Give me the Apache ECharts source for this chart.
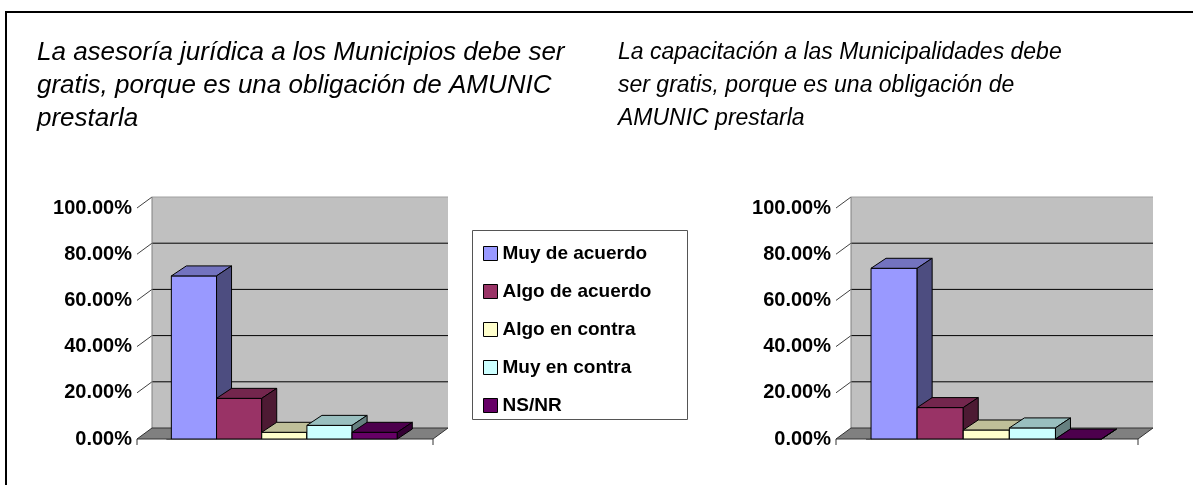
<!DOCTYPE html>
<html>
<head>
<meta charset="utf-8">
<script src="https://cdn.jsdelivr.net/npm/echarts@6/dist/echarts.min.js"></script>
<style>
  html, body { margin: 0; padding: 0; background: #fff; }
  #main { width: 1193px; height: 485px; }
</style>
</head>
<body>
<div id="main"></div>
<script>
// categorias y valores
const categories = ['Muy de acuerdo', 'Algo de acuerdo', 'Algo en contra', 'Muy en contra', 'NS/NR'];
const asesoria = [0.706, 0.176, 0.029, 0.059, 0.029];
const capacitacion = [0.739, 0.136, 0.039, 0.048, 0];
const titleLeft = 'La asesoría jurídica a los Municipios debe ser\ngratis, porque es una obligación de AMUNIC\nprestarla';
const titleRight = 'La capacitación a las Municipalidades debe\nser gratis, porque es una obligación de\nAMUNIC prestarla';

// colores estilo Excel: frente, arriba, lado
const colors = [
  ['#9999FF', '#7373BF', '#4D4D80'],
  ['#993366', '#73264D', '#4D1A33'],
  ['#FFFFCC', '#BFBF99', '#808066'],
  ['#CCFFFF', '#99BFBF', '#668080'],
  ['#660066', '#4D004D', '#330033']
];
const FONT = '"Liberation Sans", Arial, sans-serif';
const DX = 15, DY = -11;   // profundidad de las paredes
const BX = 15, BY = -10;   // profundidad de las barras
const X_MIN = -0.76, X_MAX = 5.79;

const chart = echarts.init(document.getElementById('main'));

/**
 * paredes, piso y lineas de division
 */
function renderWalls(params, api) {
  const line = (x1, y1, x2, y2, color) => ({
    type: 'line',
    shape: { x1: x1, y1: y1, x2: x2, y2: y2 },
    style: { stroke: color, lineWidth: 1 }
  });
  const fl = api.coord([X_MIN, 0]);
  const fr = api.coord([X_MAX, 0]);
  const tl = api.coord([X_MIN, 1]);
  const children = [];
  // pared de fondo
  children.push({
    type: 'rect',
    shape: { x: tl[0] + DX, y: tl[1] + DY, width: fr[0] - fl[0], height: fl[1] - tl[1] },
    style: { fill: '#C0C0C0' }
  });
  // pared lateral
  children.push({
    type: 'polygon',
    shape: { points: [[tl[0], tl[1]], [tl[0] + DX, tl[1] + DY], [fl[0] + DX, fl[1] + DY], [fl[0], fl[1]]] },
    style: { fill: '#FFFFFF' }
  });
  for (let v = 0.2; v <= 1.0001; v += 0.2) {
    const a = api.coord([X_MIN, v]);
    const b = api.coord([X_MAX, v]);
    children.push(line(a[0] + DX, a[1] + DY, b[0] + DX, b[1] + DY, v > 0.99 ? '#A0A0A0' : '#000'));
    children.push(line(a[0], a[1], a[0] + DX, a[1] + DY, '#404040'));
  }
  children.push(line(tl[0] + DX, tl[1] + DY, fl[0] + DX, fl[1] + DY, '#808080'));
  // piso
  children.push({
    type: 'polygon',
    shape: { points: [[fl[0], fl[1]], [fr[0], fr[1]], [fr[0] + DX, fr[1] + DY], [fl[0] + DX, fl[1] + DY]] },
    style: { fill: '#808080', stroke: '#333', lineWidth: 1 }
  });
  children.push(line(fl[0], fl[1], fl[0], fl[1] + 6, '#333'));
  children.push(line(fr[0], fr[1], fr[0], fr[1] + 6, '#333'));
  return { type: 'group', children: children };
}

/**
 * barra 3D
 */
function renderBar(params, api) {
  const i = api.value(0);
  const c = colors[api.value(2)];
  const bl = api.coord([i, 0]);
  const tr = api.coord([i + 1, api.value(1)]);
  const x0 = bl[0], x1 = tr[0], yb = bl[1], yt = tr[1];
  const edge = { stroke: '#000', lineWidth: 1 };
  return {
    type: 'group',
    children: [
      { type: 'rect', shape: { x: x0, y: yt, width: x1 - x0, height: yb - yt }, style: Object.assign({ fill: c[0] }, edge) },
      { type: 'polygon', shape: { points: [[x0, yt], [x1, yt], [x1 + BX, yt + BY], [x0 + BX, yt + BY]] }, style: Object.assign({ fill: c[1] }, edge) },
      { type: 'polygon', shape: { points: [[x1, yt], [x1 + BX, yt + BY], [x1 + BX, yb + BY], [x1, yb]] }, style: Object.assign({ fill: c[2] }, edge) }
    ]
  };
}

const grids = [
  { left: 137, top: 208, width: 296, height: 231 },
  { left: 836, top: 208, width: 302, height: 231 }
];
const xAxes = [0, 1].map(g => ({ type: 'value', gridIndex: g, min: X_MIN, max: X_MAX, show: false }));
const yAxes = [0, 1].map(g => ({
  type: 'value', gridIndex: g, min: 0, max: 1, interval: 0.2,
  axisLine: { show: true, lineStyle: { color: '#808080' } },
  axisTick: { show: true, length: 5, lineStyle: { color: '#808080' } },
  splitLine: { show: false },
  axisLabel: {
    margin: 5, color: '#000', fontSize: 20, fontWeight: 'bold', fontFamily: FONT,
    formatter: v => (v * 100).toFixed(2) + '%'
  }
}));

let series = [];
[asesoria, capacitacion].forEach((vals, g) => {
  series.push({
    type: 'custom', name: 'walls' + g, xAxisIndex: g, yAxisIndex: g, z: 1, clip: false,
    silent: true, renderItem: renderWalls, data: [[0, 0]]
  });
  categories.forEach((name, k) => {
    series.push({
      type: 'custom', name: name, xAxisIndex: g, yAxisIndex: g, z: 2, clip: false,
      renderItem: renderBar,
      itemStyle: { color: colors[k][0] },
      encode: { x: 0, y: 1 },
      data: [[k, vals[k], k]]
    });
  });
});

const titleStyle = { fontFamily: FONT, fontStyle: 'italic', fontWeight: 'normal', color: '#000', lineHeight: 33 };

let option = {
  animation: false,
  title: [
    { text: titleLeft, left: 37, top: 36, padding: 0, textStyle: Object.assign({ fontSize: 26 }, titleStyle) },
    { text: titleRight, left: 618, top: 36, padding: 0, textStyle: Object.assign({ fontSize: 23 }, titleStyle) }
  ],
  legend: {
    data: categories,
    orient: 'vertical',
    left: 478, top: 239,
    itemWidth: 14, itemHeight: 14, itemGap: 19,
    icon: 'rect',
    itemStyle: { borderColor: '#000', borderWidth: 1 },
    textStyle: { fontFamily: FONT, fontSize: 19, fontWeight: 'bold', color: '#000' }
  },
  graphic: [
    { type: 'rect', shape: { x: 6, y: 12, width: 1250, height: 520 }, style: { fill: 'none', stroke: '#000', lineWidth: 2 }, z: -1 },
    { type: 'rect', shape: { x: 472.5, y: 230.5, width: 215, height: 189 }, style: { fill: '#fff', stroke: '#555', lineWidth: 1 }, z: -1 }
  ],
  grid: grids,
  xAxis: xAxes,
  yAxis: yAxes,
  series: series
};
chart.setOption(option);
</script>
</body>
</html>
